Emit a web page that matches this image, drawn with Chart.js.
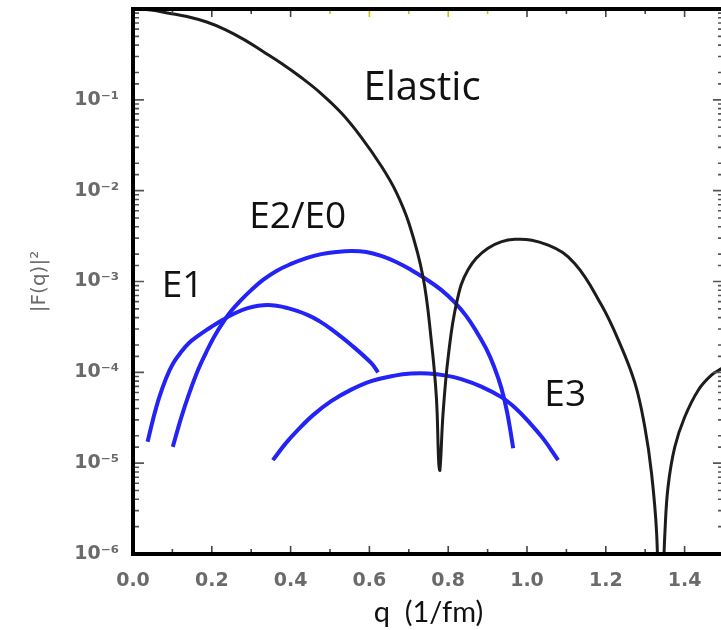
<!DOCTYPE html>
<html><head><meta charset="utf-8">
<script src="https://cdn.jsdelivr.net/npm/chart.js@4.4.1/dist/chart.umd.min.js"></script>
<style>html,body{margin:0;padding:0;overflow:hidden;background:#fff}canvas{display:block}</style>
</head><body>
<canvas id="c" width="732" height="630"></canvas>
<script>
// ---- data ----
const elasticQ = [0.000, 0.046, 0.091, 0.137, 0.187, 0.234, 0.282, 0.330, 0.379, 0.427, 0.474, 0.529, 0.579, 0.630, 0.668, 0.701, 0.736, 0.757, 0.770, 0.776, 0.779, 0.787, 0.800, 0.821, 0.850, 0.901, 0.969, 1.054, 1.121, 1.189, 1.232, 1.274, 1.299, 1.316, 1.329, 1.338, 1.350, 1.358, 1.375, 1.400, 1.435, 1.468, 1.494, 1.510];
const elasticF = [1.0, 0.975, 0.90, 0.827, 0.719, 0.594, 0.460, 0.340, 0.248, 0.176, 0.121, 0.0716, 0.0389, 0.0187, 9.65e-3, 4.29e-3, 1.13e-3, 2.26e-4, 5.3e-5, 1.0e-5, 8.4e-6, 3.55e-5, 1.48e-4, 5.75e-4, 1.34e-3, 2.32e-3, 2.91e-3, 2.51e-3, 1.58e-3, 5.5e-4, 2.26e-4, 7.6e-5, 2.5e-5, 7.8e-6, 1.7e-6, 1e-7, 1.7e-6, 5.5e-6, 1.5e-5, 3.2e-5, 6.4e-5, 9.3e-5, 1.1e-4, 1.2e-4];

const e1Q = [0.037, 0.051, 0.066, 0.084, 0.102, 0.122, 0.142, 0.164, 0.186, 0.206, 0.227, 0.249, 0.291, 0.342, 0.393, 0.444, 0.473, 0.503, 0.554, 0.605, 0.622];
const e1F = [1.72e-5, 3.05e-5, 5.2e-5, 8.63e-5, 1.26e-4, 1.67e-4, 2.10e-4, 2.50e-4, 2.92e-4, 3.31e-4, 3.76e-4, 4.27e-4, 5.09e-4, 5.50e-4, 5.09e-4, 4.27e-4, 3.66e-4, 2.99e-4, 2.0e-4, 1.26e-4, 1.0e-4];

const e2Q = [0.101, 0.122, 0.142, 0.165, 0.186, 0.206, 0.229, 0.249, 0.274, 0.300, 0.330, 0.363, 0.401, 0.440, 0.478, 0.516, 0.554, 0.592, 0.630, 0.668, 0.706, 0.744, 0.783, 0.816, 0.846, 0.871, 0.897, 0.917, 0.935, 0.950, 0.965];
const e2F = [1.51e-5, 3.13e-5, 5.75e-5, 1.06e-4, 1.67e-4, 2.47e-4, 3.57e-4, 4.72e-4, 6.24e-4, 8.04e-4, 1.04e-3, 1.30e-3, 1.56e-3, 1.81e-3, 2.00e-3, 2.11e-3, 2.16e-3, 2.11e-3, 1.91e-3, 1.64e-3, 1.34e-3, 1.06e-3, 8.04e-4, 5.93e-4, 4.16e-4, 2.84e-4, 1.80e-4, 1.14e-4, 6.70e-5, 3.56e-5, 1.46e-5];

const e3Q = [0.355, 0.386, 0.418, 0.457, 0.503, 0.554, 0.605, 0.664, 0.706, 0.749, 0.795, 0.833, 0.884, 0.935, 0.971, 1.003, 1.042, 1.079];
const e3F = [1.08e-5, 1.62e-5, 2.31e-5, 3.38e-5, 4.82e-5, 6.45e-5, 8.0e-5, 9.2e-5, 9.68e-5, 9.7e-5, 9.2e-5, 8.41e-5, 6.96e-5, 5.33e-5, 4.03e-5, 2.90e-5, 1.84e-5, 1.08e-5];

const xTickLabels = ['0.0', '0.2', '0.4', '0.6', '0.8', '1.0', '1.2', '1.4'];
const yTickLabels = ['10\u207B\u2076', '10\u207B\u2075', '10\u207B\u2074', '10\u207B\u00B3', '10\u207B\u00B2', '10\u207B\u00B9', ''];

const labelText = ['Elastic', 'E2/E0', 'E1', 'E3'];
const labelQ = [0.585, 0.295, 0.073, 1.044];
const labelF = [0.1, 3.9e-3, 6.7e-4, 4.25e-5];

// ---- chart ----
const pts = (qs, fs) => qs.map((q, i) => ({x: q, y: fs[i]}));
const BLUE = '#2323f5';

const frameTicks = {
  id: 'frameTicks',
  afterDatasetsDraw(chart) {
    const {ctx, chartArea: a, scales: {x, y}} = chart;
    ctx.save();
    ctx.lineWidth = 1.6;
    ctx.strokeStyle = '#555';
    y.ticks.forEach(t => {
      const p = y.getPixelForValue(t.value);
      const e = Math.log10(t.value);
      const major = Math.abs(e - Math.round(e)) < 1e-6;
      const len = major ? 11 : 6;
      ctx.beginPath();
      ctx.moveTo(a.left, p); ctx.lineTo(a.left + len, p);
      ctx.moveTo(a.right, p); ctx.lineTo(a.right - len, p);
      ctx.stroke();
    });
    x.ticks.forEach(t => {
      const p = x.getPixelForValue(t.value);
      const k = Math.round(t.value * 10);
      const len = k % 2 === 0 ? 8 : 5;
      ctx.strokeStyle = '#444';
      ctx.beginPath(); ctx.moveTo(p, a.bottom); ctx.lineTo(p, a.bottom - len); ctx.stroke();
      ctx.strokeStyle = (k >= 5 && k <= 9) ? '#c9c400' : '#444';
      ctx.beginPath(); ctx.moveTo(p, a.top); ctx.lineTo(p, a.top + len); ctx.stroke();
    });
    ctx.strokeStyle = '#000';
    ctx.lineWidth = 4;
    ctx.beginPath();
    ctx.moveTo(a.right + 2, a.top); ctx.lineTo(a.left, a.top);
    ctx.lineTo(a.left, a.bottom); ctx.lineTo(a.right + 2, a.bottom);
    ctx.lineTo(a.right, a.top);
    ctx.stroke();
    ctx.restore();
  }
};

const curveLabels = {
  id: 'curveLabels',
  afterDatasetsDraw(chart) {
    const {ctx, scales: {x, y}} = chart;
    ctx.save();
    ctx.fillStyle = '#111';
    ctx.textAlign = 'left';
    ctx.textBaseline = 'alphabetic';
    labelText.forEach((s, i) => {
      ctx.font = (i === 0 ? '40px' : '37px') + ' "Open Sans"';
      ctx.fillText(s, x.getPixelForValue(labelQ[i]), y.getPixelForValue(labelF[i]));
    });
    ctx.restore();
  }
};

function draw() {
  new Chart(document.getElementById('c'), {
    type: 'line',
    data: {
      datasets: [
        {label: 'Elastic', data: pts(elasticQ, elasticF), borderColor: '#1c1c1c', borderWidth: 3},
        {label: 'E1', data: pts(e1Q, e1F), borderColor: BLUE, borderWidth: 4},
        {label: 'E2/E0', data: pts(e2Q, e2F), borderColor: BLUE, borderWidth: 4},
        {label: 'E3', data: pts(e3Q, e3F), borderColor: BLUE, borderWidth: 4}
      ]
    },
    options: {
      responsive: false,
      animation: false,
      events: [],
      layout: {padding: {top: 9, right: 8, left: 0, bottom: 0}},
      elements: {
        point: {radius: 0},
        line: {tension: 0.4, fill: false, borderCapStyle: 'butt', borderJoinStyle: 'round'}
      },
      plugins: {legend: {display: false}, tooltip: {enabled: false}},
      scales: {
        x: {
          type: 'linear', min: 0, max: 1.5,
          afterFit: s => { s.height = 76; s.paddingLeft = 0; s.paddingRight = 0; },
          grid: {display: false, drawTicks: false},
          border: {display: false},
          ticks: {
            stepSize: 0.1, autoSkip: false, maxRotation: 0, padding: 16,
            color: '#6a6a6a', font: {family: 'DejaVu Sans', size: 19, weight: 'bold'},
            callback: v => { const k = Math.round(v * 10); return k % 2 === 0 ? (xTickLabels[k / 2] || '') : ''; }
          },
          title: {display: true, text: 'q  (1/fm)', color: '#111', font: {family: 'Lato', size: 29}, padding: {top: 0, bottom: 0}}
        },
        y: {
          type: 'logarithmic', min: 1e-6, max: 1,
          afterFit: s => { s.width = 133; s.paddingTop = 0; s.paddingBottom = 0; },
          grid: {display: false, drawTicks: false},
          border: {display: false},
          ticks: {
            autoSkip: false, padding: 14,
            color: '#6a6a6a', font: {family: 'DejaVu Sans', size: 19, weight: 'bold'},
            callback: v => { const e = Math.log10(v); const r = Math.round(e); return Math.abs(e - r) < 1e-6 ? (yTickLabels[r + 6] || '') : ''; }
          },
          title: {display: true, text: '|F(q)|\u00B2', color: '#6a6a6a', font: {family: 'DejaVu Sans', size: 20}, padding: {top: 28, bottom: 0}}
        }
      }
    },
    plugins: [frameTicks, curveLabels]
  });
}

Promise.all([
  document.fonts.load('37px "Open Sans"'),
  document.fonts.load('29px Lato'),
  document.fonts.load('bold 19px "DejaVu Sans"')
]).then(draw, draw);
</script>
</body></html>
